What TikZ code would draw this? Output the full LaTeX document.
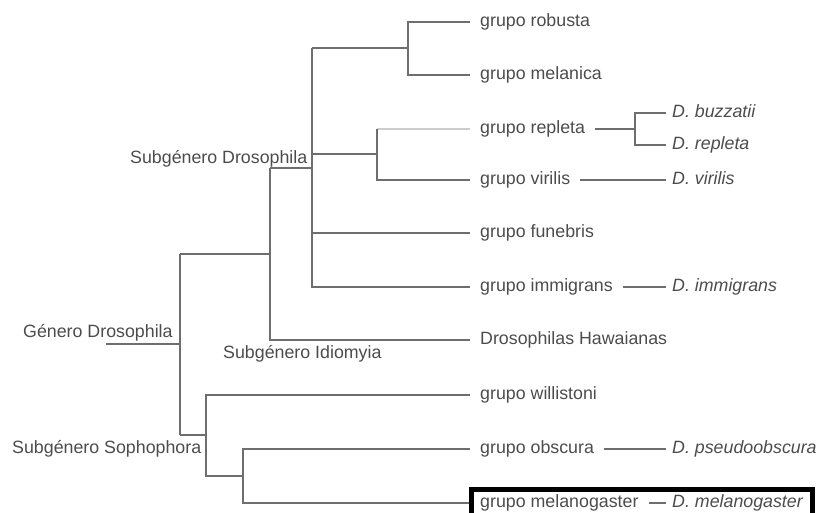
\documentclass[tikz,border=0pt]{standalone}
\usepackage{fontspec}
\setmainfont{Liberation Sans}
\definecolor{linegray}{HTML}{6E6E6E}
\definecolor{textgray}{HTML}{4C4C4C}
\begin{document}
\fontsize{17.8}{20}\selectfont
\begin{tikzpicture}[x=1pt,y=-1pt,
  br/.style={draw=linegray,line width=1.2pt},
  grp/.style={anchor=mid west,inner xsep=10pt,inner ysep=2pt,text=textgray,font=\fontsize{17.8}{20}\selectfont},
  spc/.style={anchor=mid west,inner xsep=6pt,inner ysep=2pt,text=textgray,font=\fontsize{17.8}{20}\selectfont\itshape},
  lab/.style={anchor=base west,inner sep=0pt,text=textgray,font=\fontsize{17.8}{20}\selectfont}]
\useasboundingbox (0,0) rectangle (819,512);
\clip (0,0) rectangle (819,512);
% group nodes
\node[grp] (robusta)    at (470,22)  {grupo robusta};
\node[grp] (melanica)   at (470,75)  {grupo melanica};
\node[grp] (repleta)    at (470,129) {grupo repleta};
\node[grp] (virilis)    at (470,180) {grupo virilis};
\node[grp] (funebris)   at (470,233) {grupo funebris};
\node[grp] (immigrans)  at (470,287) {grupo immigrans};
\node[grp] (hawaii)     at (470,340) {Drosophilas Hawaianas};
\node[grp] (willistoni) at (470,395) {grupo willistoni};
\node[grp] (obscura)    at (470,449) {grupo obscura};
\node[grp] (melano)     at (470,503) {grupo melanogaster};
% species nodes
\node[spc] (buzzatii) at (666,113) {D. buzzatii};
\node[spc] (drepleta) at (666,145) {D. repleta};
\node[spc] (dvirilis) at (666,180) {D. virilis};
\node[spc] (dimmig)   at (666,287) {D. immigrans};
\node[spc] (dpseudo)  at (666,449) {D. pseudoobscura};
\node[spc] (dmelano)  at (666,503) {D. melanogaster};
% taxon labels
\node[lab] (genero) at (23,337)  {Género Drosophila};
\node[lab] (sdros)  at (130,163) {Subgénero Drosophila};
\node[lab] (sidio)  at (223,358) {Subgénero Idiomyia};
\node[lab] (ssoph)  at (12,453)  {Subgénero Sophophora};
% junctions
\coordinate (root) at (106,344);
\coordinate (a1) at (180,254);
\coordinate (a2) at (180,435);
\coordinate (b1) at (270,168);
\coordinate (c1) at (312,48);
\coordinate (c0) at (312,154);
\coordinate (d2) at (408,75);
\coordinate (e2) at (377,180);
\coordinate (f1) at (206,395);
\coordinate (f2) at (206,476);
\coordinate (g1) at (243,449);
\coordinate (g2) at (243,503);
\coordinate (h2) at (635,145);
% tree
\draw[br] (root) -- (root -| a1);
\draw[br] (a1) -- (a2);
\draw[br] (a1) -- (a1 -| b1);
\draw[br] (b1) |- (hawaii.mid west);
\draw[br] (b1) -- (b1 -| c1);
\draw[br] (c1) |- (immigrans.mid west);
\draw[br] (c1) -- (c1 -| d2);
\draw[br] (robusta.mid west) -| (d2) -- (melanica.mid west);
\draw[br] (c0) -- (c0 -| e2);
\draw[br,draw=linegray!35] (repleta.mid west) -- (repleta.mid west -| e2);
\draw[br] (e2 |- repleta.mid west) -- (e2) -- (virilis.mid west);
\draw[br] (funebris.mid west) -- (funebris.mid west -| c1);
\draw[br] (a2) -- (a2 -| f1);
\draw[br] (willistoni.mid west) -| (f2) -- (f2 -| g1);
\draw[br] (obscura.mid west) -| (g2) -- (melano.mid west);
% species links
\draw[br] (repleta.mid east) -- (repleta.mid east -| h2);
\draw[br] (buzzatii.mid west) -| (h2) -- (drepleta.mid west);
\draw[br] (virilis.mid east) -- (dvirilis.mid west);
\draw[br] (immigrans.mid east) -- (dimmig.mid west);
\draw[br] (obscura.mid east) -- (dpseudo.mid west);
\draw[br] (melano.mid east) -- (dmelano.mid west);
% highlight box
\draw[line width=5pt,black] (471,489) rectangle (812,540);
\end{tikzpicture}
\end{document}
